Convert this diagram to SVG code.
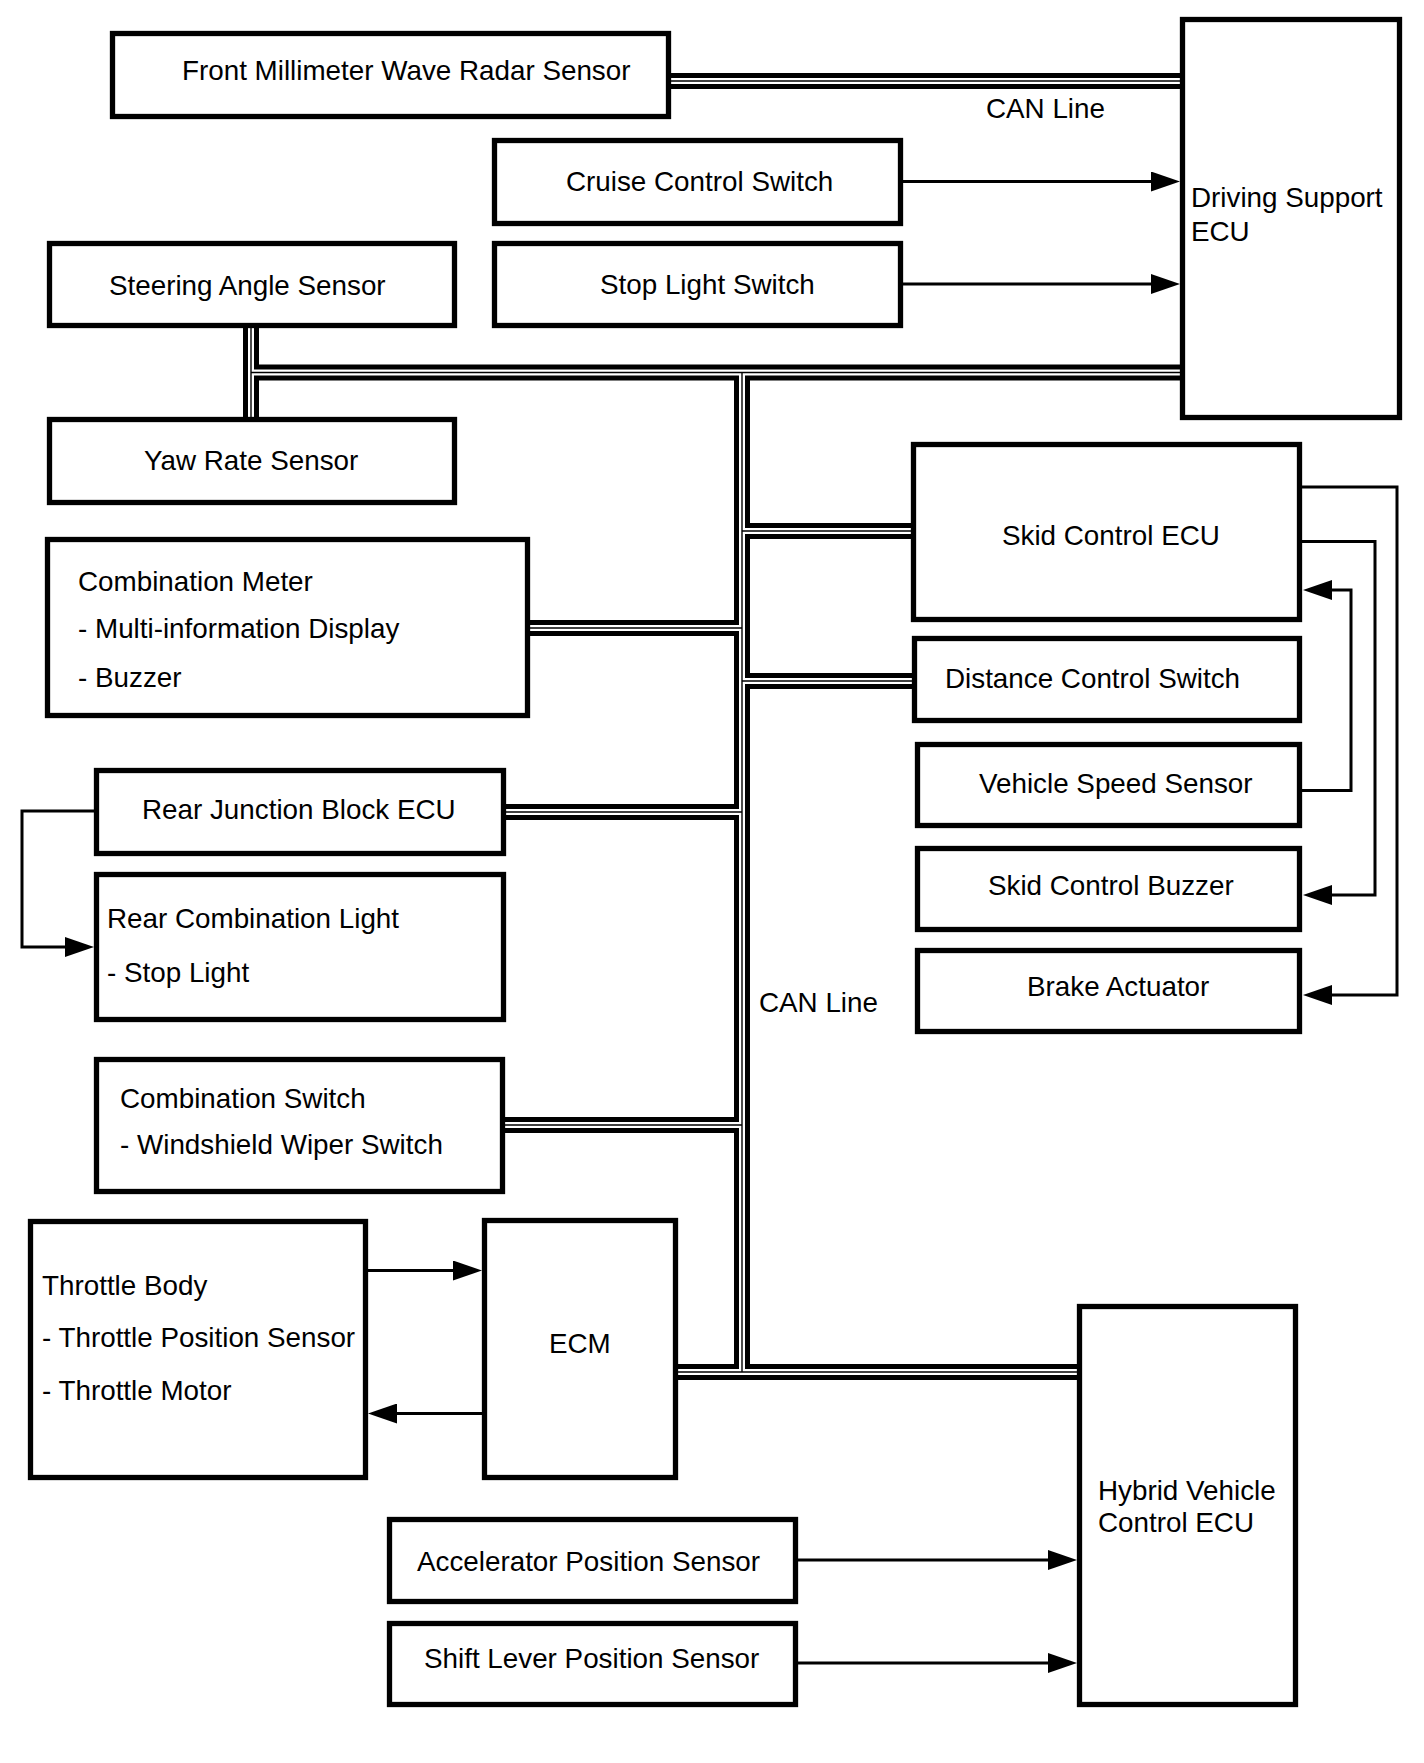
<svg xmlns="http://www.w3.org/2000/svg" xmlns:xlink="http://www.w3.org/1999/xlink" width="1424" height="1763" viewBox="0 0 1424 1763">
<style>
.box{fill:#fff;stroke:#000;stroke-width:5.3}
.t{font-family:"Liberation Sans",Arial,Helvetica,sans-serif;font-size:27.8px;fill:#000}
.b1{fill:none;stroke:#000;stroke-width:16}
.b2{fill:none;stroke:#fff;stroke-width:6}
.b3{fill:none;stroke:#000;stroke-width:1.4}
.wire{fill:none;stroke:#000;stroke-width:3;marker-end:url(#ah)}
</style>
<defs>
<marker id="ah" markerUnits="userSpaceOnUse" markerWidth="30" markerHeight="20" refX="14" refY="10" orient="auto">
<path d="M0,0 L29,10 L0,20 z" fill="#000"/>
</marker>
<g id="buses">
<path d="M671,81 H1180"/>
<path d="M251,327 V417"/>
<path d="M251,372.5 H1180"/>
<path d="M742,372.5 V1372"/>
<path d="M742,531 H911"/>
<path d="M742,681 H912"/>
<path d="M530,628 H742"/>
<path d="M506,812 H742"/>
<path d="M505,1125 H742"/>
<path d="M678,1372 H1077"/>
</g>
</defs>
<rect width="1424" height="1763" fill="#fff"/>
<g id="connectors">
<use xlink:href="#buses" class="b1"/>
<use xlink:href="#buses" class="b2"/>
<use xlink:href="#buses" class="b3"/>
<path class="wire" d="M903,181.5 H1165"/>
<path class="wire" d="M903,284 H1165"/>
<path class="wire" d="M1302,487 H1397 V995 H1318"/>
<path class="wire" d="M1302,541.5 H1375 V895 H1318"/>
<path class="wire" d="M1302,790.5 H1351 V590 H1318"/>
<path class="wire" d="M94,811 H22 V947 H79"/>
<path class="wire" d="M368,1270.5 H467"/>
<path class="wire" d="M482,1413.5 H383"/>
<path class="wire" d="M798,1560 H1062"/>
<path class="wire" d="M798,1663 H1062"/>
<text class="t" x="986" y="118">CAN Line</text>
<text class="t" x="759" y="1012">CAN Line</text>
</g>
<g id="radar"><rect class="box" x="112.5" y="33.5" width="556" height="83"/><text class="t" x="182" y="80">Front Millimeter Wave Radar Sensor</text></g>
<g id="cruise"><rect class="box" x="494.5" y="140.5" width="406" height="83"/><text class="t" x="566" y="190.5">Cruise Control Switch</text></g>
<g id="stoplightsw"><rect class="box" x="494.5" y="243.5" width="406" height="82"/><text class="t" x="600" y="293.5">Stop Light Switch</text></g>
<g id="dsecu"><rect class="box" x="1182.5" y="19.5" width="217" height="398"/><text class="t" x="1191" y="207">Driving Support</text><text class="t" x="1191" y="240.5">ECU</text></g>
<g id="steering"><rect class="box" x="49.5" y="243.5" width="405" height="82"/><text class="t" x="109" y="295">Steering Angle Sensor</text></g>
<g id="yaw"><rect class="box" x="49.5" y="419.5" width="405" height="83"/><text class="t" x="144" y="469.5">Yaw Rate Sensor</text></g>
<g id="combmeter"><rect class="box" x="47.5" y="539.5" width="480" height="176"/><text class="t" x="78" y="590.5">Combination Meter</text><text class="t" x="78" y="638">- Multi-information Display</text><text class="t" x="78" y="686.5">- Buzzer</text></g>
<g id="skidecu"><rect class="box" x="913.5" y="444.5" width="386" height="175"/><text class="t" x="1002" y="545">Skid Control ECU</text></g>
<g id="distance"><rect class="box" x="914.5" y="638.5" width="385" height="82"/><text class="t" x="945" y="687.5">Distance Control Switch</text></g>
<g id="vss"><rect class="box" x="917.5" y="744.5" width="382" height="81"/><text class="t" x="979" y="793">Vehicle Speed Sensor</text></g>
<g id="buzzer"><rect class="box" x="917.5" y="848.5" width="382" height="81"/><text class="t" x="988" y="895">Skid Control Buzzer</text></g>
<g id="brake"><rect class="box" x="917.5" y="950.5" width="382" height="81"/><text class="t" x="1027" y="996">Brake Actuator</text></g>
<g id="rearjb"><rect class="box" x="96.5" y="770.5" width="407" height="83"/><text class="t" x="142" y="819">Rear Junction Block ECU</text></g>
<g id="rearcl"><rect class="box" x="96.5" y="874.5" width="407" height="145"/><text class="t" x="107" y="928">Rear Combination Light</text><text class="t" x="107" y="982">- Stop Light</text></g>
<g id="combsw"><rect class="box" x="96.5" y="1059.5" width="406" height="132"/><text class="t" x="120" y="1108">Combination Switch</text><text class="t" x="120" y="1153.5">- Windshield Wiper Switch</text></g>
<g id="throttle"><rect class="box" x="30.5" y="1221.5" width="335" height="256"/><text class="t" x="42" y="1295">Throttle Body</text><text class="t" x="42" y="1347">- Throttle Position Sensor</text><text class="t" x="42" y="1399.5">- Throttle Motor</text></g>
<g id="ecm"><rect class="box" x="484.5" y="1220.5" width="191" height="257"/><text class="t" x="549" y="1352.5">ECM</text></g>
<g id="hybrid"><rect class="box" x="1079.5" y="1306.5" width="216" height="398"/><text class="t" x="1098" y="1499.5">Hybrid Vehicle</text><text class="t" x="1098" y="1532">Control ECU</text></g>
<g id="accel"><rect class="box" x="389.5" y="1519.5" width="406" height="82"/><text class="t" x="417" y="1571">Accelerator Position Sensor</text></g>
<g id="shift"><rect class="box" x="389.5" y="1623.5" width="406" height="81"/><text class="t" x="424" y="1668">Shift Lever Position Sensor</text></g>
</svg>
